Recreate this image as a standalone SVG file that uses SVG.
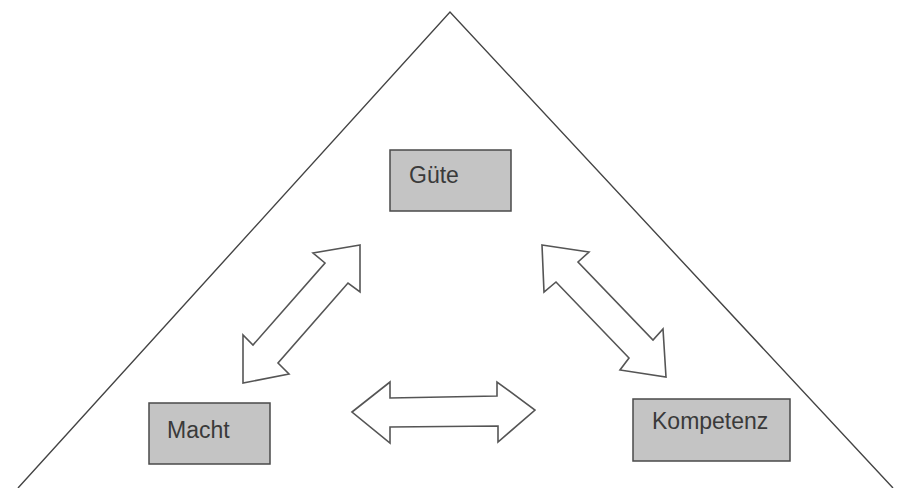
<svg xmlns="http://www.w3.org/2000/svg" width="903" height="488" viewBox="0 0 903 488">
<style>
.box{fill:#c4c4c4;stroke:#4a4a4a;stroke-width:1.5}
.lbl{font-family:"Liberation Sans",Arial,sans-serif;font-size:23px;fill:#3a3a3a}
.arr{fill:#fff;stroke:#555;stroke-width:1.6;stroke-linejoin:miter}
.tri{fill:none;stroke:#444;stroke-width:1.4}
</style>
<rect width="903" height="488" fill="#fff"/>
<g id="triangle"><polyline class="tri" points="18,488 450,12 893,488"/></g>
<g id="connectors">
<polygon class="arr" points="360,245 313,253 325,263 253,345 243,335 243,383 289,374 278,363 348,283 360,292"/>
<polygon class="arr" points="352,412 390,382 390,398 497,396 497,382 535,410 498,442 498,426 390,427 390,443"/>
<polygon class="arr" points="542,245 589,252 578,262 653,340 663,329 666,377 620,370 629,358 556,282 544,292"/>
</g>
<g id="guete"><rect class="box" x="390" y="150" width="121" height="61"/><text class="lbl" x="409" y="183">Güte</text></g>
<g id="macht"><rect class="box" x="149" y="403" width="121" height="61"/><text class="lbl" x="167" y="438">Macht</text></g>
<g id="kompetenz"><rect class="box" x="633" y="399" width="157" height="62"/><text class="lbl" x="652" y="429">Kompetenz</text></g>
</svg>
